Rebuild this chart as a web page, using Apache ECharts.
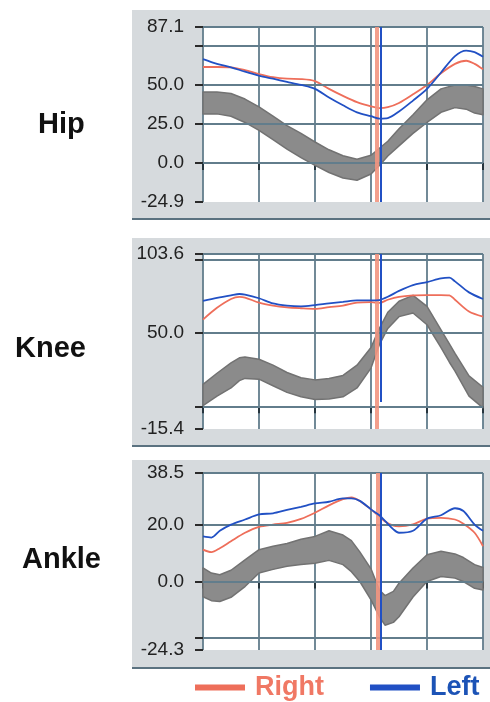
<!DOCTYPE html>
<html><head><meta charset="utf-8">
<script src="https://cdn.jsdelivr.net/npm/echarts@6/dist/echarts.min.js"></script>
<style>html,body{margin:0;padding:0;background:#fff}#c{width:490px;height:702px}</style>
</head><body><div id="c"></div>
<script>
// ---- data (percent of gait cycle vs. joint angle, degrees) ----
const jointNames = ['Hip', 'Knee', 'Ankle'];

const hipX = [0,5,10,15,20,25,30,35,40,45,50,55,60,63,66,70,75,80,85,90,94,97,100];
const hipRight = [61.5,61.5,61.3,59.5,57,55,54,53.8,52.5,47.5,43,39,36.3,35.2,35.8,38.5,44,50,57.5,63.5,65.5,63.5,60];
const hipLeft = [66.5,63.5,61.3,58.5,56,54,52,50,47.5,42,37,32.5,30,28.5,28.8,33,40,47.5,58,68.5,72,71,68];
const hipBandHigh = [45.5,45.5,44.5,41,36,30,24,19,13.5,8.5,4.7,2.5,5,9.5,14,22,31,40.5,47.5,50,50,49,47.5];
const hipBandLow = [31.5,31.5,30,26,21,15,9,3.5,-1.5,-6,-9.5,-11,-7,-1.5,4.5,11,19,26,32.5,35.5,34.5,32,31];

const kneeX = [0,5,10,13,15,20,25,30,35,40,45,50,55,60,63,66,70,75,80,85,88,90,95,100];
const kneeRight = [59,67,73,74.5,74,70.5,68.5,67.3,66.7,66.3,67.5,68.5,70.5,70.9,70.3,72.5,74.5,75.5,75.7,75.7,75.5,72.5,64.5,61];
const kneeLeft = [71.8,73.8,75.5,76.4,76,73.5,70,68.5,68,68.8,70,71,72,72,72.3,74.5,78.5,82.5,84.5,87,87.5,85,77.5,73];
const kneeBandHigh = [15,22.5,29.5,33,33.5,32,28,23,19.5,18,19,21,28,40,53,64,71.5,75.5,68,52,42.5,36,20.7,13];
const kneeBandLow = [0.5,7,12.5,17.5,19,18.5,14,9.5,6.5,4.7,5,6.5,12.5,26,42,53,61,63.5,55.5,40,30,24,7,-1];

const ankleX = [0,3,6,10,15,20,25,30,35,40,45,50,53,56,60,63,65,68,70,75,80,85,90,93,97,100];
const ankleRight = [11.3,10.4,11.8,14.3,17.3,19.4,20.2,20.8,22.2,24.4,27,29.2,29.8,28.6,25.6,23,21.3,19.8,19.6,20.3,22.3,22.6,22,20.5,17.3,12.5];
const ankleLeft = [16,15.6,18,20.2,22,23.8,24.2,25.4,26.5,27.7,28.3,29.5,29.5,28.6,25.6,23.5,21.5,18.5,17.3,18,22.3,23.5,26,25,20.2,18];
const ankleBandHigh = [4.8,3,2.4,4,7.7,11.3,12.5,13.5,15,16,18,16.5,14.5,10.5,4.5,-3,-5,-3.5,-0.6,4.8,9.5,10.7,9.8,8.5,6,5];
const ankleBandLow = [-5.4,-6.8,-7.1,-5.6,-1.8,3,4.3,5.4,6,6.5,7.5,6,3.5,0,-6.5,-12.5,-15.5,-14.5,-12.5,-5.5,0,1.8,1.2,0,-2.4,-3];

// toe-off event lines: x position and the y span each line covers
const toeOffRight = [62.2, 62.2, 62.4];
const toeOffLeft = [63.5, 63.5, 63.6];
const toeOffLeftBottom = [-24.9, 3, -24.3];

const yMin = [-24.9, -15.4, -24.3];
const yMax = [87.1, 103.6, 38.5];
const yGridValues = [[87.1, 75, 50, 25, 0], [103.6, 100, 50, 0], [38.5, 20, 0, -20]];
const yLabelValues = [[87.1, 50, 25, 0, -24.9], [103.6, 50, -15.4], [38.5, 20, 0, -24.3]];
const yTickValues = [[87.1, 75, 50, 25, 0, -24.9], [103.6, 100, 50, 0, -15.4], [38.5, 20, 0, -20, -24.3]];
const xMin = 0, xMax = 100, xStep = 20;
const legendNames = ['Right', 'Left'];

// ---- layout & style ----
const gridTop = [27, 254, 473];
const gridHeight = [175, 175, 177];
const panelTop = [10, 238, 460];
const panelBottom = [220, 447, 669];
const labelPos = [[38, 125], [15, 349], [22, 560]];
const RED = '#ee6e5a', BLUE = '#2150c4', EVENT_RED = '#f2957f';
const BAND = '#8b8b8b', BAND_EDGE = '#727272', GRIDC = '#627d8c';
const PANEL = '#d6dadd', PANEL_LINE = '#5b7280';

const xs = [hipX, kneeX, ankleX];
const rights = [hipRight, kneeRight, ankleRight];
const lefts = [hipLeft, kneeLeft, ankleLeft];
const highs = [hipBandHigh, kneeBandHigh, ankleBandHigh];
const lows = [hipBandLow, kneeBandLow, ankleBandLow];

function bandRenderer(X, lo, hi) {
  return function (params, api) {
    if (params.dataIndex !== 0) return null;
    const up = X.map((x, k) => api.coord([x, hi[k]]));
    const dn = X.map((x, k) => api.coord([x, lo[k]])).reverse();
    return {type: 'polygon', shape: {points: up.concat(dn)},
      style: {fill: BAND, stroke: BAND_EDGE, lineWidth: 1.5, lineJoin: 'round'}};
  };
}

const grids = [], xAxes = [], yAxes = [], series = [], graphics = [];
for (let i = 0; i < 3; i++) {
  const X = xs[i];
  const pairs = ys => X.map((x, k) => [x, ys[k]]);
  grids.push({left: 203, right: 7, top: gridTop[i], height: gridHeight[i], show: true, backgroundColor: '#ffffff', borderWidth: 0});
  xAxes.push({type: 'value', gridIndex: i, min: xMin, max: xMax, interval: xStep, offset: 4,
    axisLine: {show: false}, axisLabel: {show: false},
    axisTick: {show: true, length: 7, lineStyle: {color: '#26353e', width: 2}},
    splitLine: {show: true, lineStyle: {color: GRIDC, width: 1.8}}});
  yAxes.push({type: 'value', gridIndex: i, min: yMin[i], max: yMax[i], offset: 4,
    axisLine: {show: false}, splitLine: {show: false},
    axisTick: {show: true, customValues: yTickValues[i], length: 8, lineStyle: {color: '#2a2a2a', width: 2}},
    axisLabel: {show: true, customValues: yLabelValues[i], formatter: v => Number(v).toFixed(1),
      margin: 15, fontSize: 19, color: '#222222', fontFamily: 'Liberation Sans, Arial, sans-serif'}});
  series.push({type: 'line', xAxisIndex: i, yAxisIndex: i, data: [], silent: true, z: 1,
    markLine: {silent: true, symbol: 'none', label: {show: false},
      lineStyle: {color: GRIDC, width: 1.8, type: 'solid'},
      data: yGridValues[i].map(v => ({yAxis: v}))}});
  series.push({type: 'custom', xAxisIndex: i, yAxisIndex: i, silent: true, z: 2,
    data: X.map((x, k) => [x, lows[i][k], highs[i][k]]),
    encode: {x: 0, y: [1, 2]},
    renderItem: bandRenderer(X, lows[i], highs[i])});
  series.push({name: legendNames[0], type: 'line', xAxisIndex: i, yAxisIndex: i, data: pairs(rights[i]),
    symbol: 'none', smooth: 0.3, z: 4, lineStyle: {color: RED, width: 1.8}, itemStyle: {color: RED},
    markLine: {silent: true, symbol: 'none', label: {show: false},
      lineStyle: {color: EVENT_RED, width: 4, type: 'solid', opacity: 0.9},
      data: [{xAxis: toeOffRight[i]}]}});
  series.push({name: legendNames[1], type: 'line', xAxisIndex: i, yAxisIndex: i, data: pairs(lefts[i]),
    symbol: 'none', smooth: 0.3, z: 5, lineStyle: {color: BLUE, width: 1.8}, itemStyle: {color: BLUE},
    markLine: {silent: true, symbol: 'none', label: {show: false},
      lineStyle: {color: BLUE, width: 2, type: 'solid'},
      data: [[{coord: [toeOffLeft[i], yMax[i]]}, {coord: [toeOffLeft[i], toeOffLeftBottom[i]]}]]}});
  graphics.push({type: 'rect', z: -10, shape: {x: 132, y: panelTop[i], width: 358, height: panelBottom[i] - panelTop[i]},
    style: {fill: PANEL}});
  graphics.push({type: 'rect', z: -9, shape: {x: 132, y: panelBottom[i] - 2, width: 358, height: 2},
    style: {fill: PANEL_LINE}});
  graphics.push({type: 'text', z: 10, x: labelPos[i][0], y: labelPos[i][1],
    style: {text: jointNames[i], fill: '#111', font: 'bold 29px "Liberation Sans", Arial, sans-serif',
      textVerticalAlign: 'middle', verticalAlign: 'middle'}});
}

const chart = echarts.init(document.getElementById('c'), null, {renderer: 'canvas'});
chart.setOption({
  animation: false,
  backgroundColor: '#ffffff',
  grid: grids, xAxis: xAxes, yAxis: yAxes, series: series,
  graphic: {elements: graphics},
  legend: {data: [{name: legendNames[0], textStyle: {color: '#f07864'}}, {name: legendNames[1], textStyle: {color: '#1c53b6'}}],
    left: 195, top: 674, itemWidth: 50, itemHeight: 6, itemGap: 46, icon: 'rect', selectedMode: false, padding: 0,
    textStyle: {fontSize: 27, fontWeight: 'bold', fontFamily: 'Liberation Sans, Arial, sans-serif', padding: [0, 0, 0, 5]}}
});
</script></body></html>
